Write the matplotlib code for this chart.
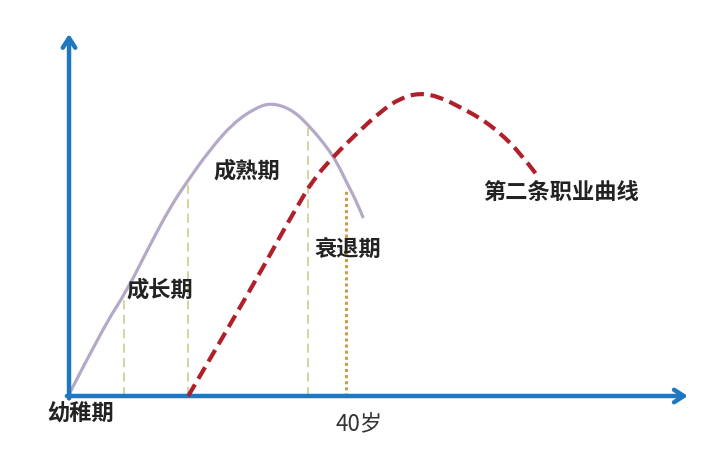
import numpy as np
import matplotlib
matplotlib.use("Agg")
import matplotlib.pyplot as plt
from matplotlib.path import Path
from matplotlib.patches import PathPatch

plt.rcParams['font.family'] = ['Noto Sans CJK SC', 'DejaVu Sans']

# first career curve (age, value)
first_age = [0.1, 4.9, 8.4, 11.3, 14.6, 17.2, 20.3, 23.7, 27.1, 29.4, 32.3, 34.8, 37.2, 38.7, 40.1, 41.6, 42.4]
first_val = [1.0, 22.7, 35.3, 48.7, 63.0, 72.0, 82.0, 91.0, 96.3, 97.7, 95.3, 89.7, 83.0, 77.7, 71.0, 64.3, 59.7]

# second career curve
second_age = [17.2, 22.8, 28.6, 30.4, 32.9, 35.2, 38.1, 41.6, 44.9, 47.8, 50.6, 53.5, 56.4, 59.3, 62.2, 65.1, 67.5]
second_val = [0.0, 22.0, 45.3, 53.0, 63.0, 72.0, 79.7, 87.7, 94.7, 99.3, 101.0, 99.7, 96.3, 92.7, 87.7, 81.0, 73.7]

# stage boundaries
stage_age = [7.9, 17.2, 34.5]
stage_top = [35.0, 72.0, 89.3]
age40 = 40.0
age40_top = 68.7

stage_labels = ['成长期', '成熟期', '衰退期']
stage_label_pos = [(13.1, 35.3), (25.7, 75.0), (40.3, 48.7)]


def smooth_path(xs, ys):
    # quadratic segments through the midpoints, the read points act as control points
    pts = list(zip(xs, ys))
    verts = [pts[0]]
    codes = [Path.MOVETO]
    for i in range(1, len(pts) - 1):
        mid = ((pts[i][0] + pts[i + 1][0]) / 2, (pts[i][1] + pts[i + 1][1]) / 2)
        if i == len(pts) - 2:
            mid = pts[-1]
        verts += [pts[i], mid]
        codes += [Path.CURVE3, Path.CURVE3]
    return Path(verts, codes)


fig = plt.figure(figsize=(7.2, 4.69), dpi=100)
ax = fig.add_axes([0, 0, 1, 1])
ax.set_xlim(-9.96, 93.94)
ax.set_ylim(-24.33, 132)
ax.axis('off')

blue = '#1f77c0'
# axes with arrows
ax.annotate('', xy=(89.3, 0), xytext=(-0.3, 0),
            arrowprops=dict(arrowstyle='->,head_length=0.7,head_width=0.45', color=blue, lw=3.2,
                            shrinkA=0, shrinkB=0))
ax.annotate('', xy=(0, 120.7), xytext=(0, -0.8),
            arrowprops=dict(arrowstyle='->,head_length=0.7,head_width=0.45', color=blue, lw=3.2,
                            shrinkA=0, shrinkB=0))

# guide lines
for a, t in zip(stage_age, stage_top):
    ax.plot([a, a], [0, t], color='#cdd494', lw=1.3, ls=(0, (5, 3)), zorder=1)
ax.plot([age40, age40], [0, age40_top], color='#d09a48', lw=2.2, ls=(0, (1, 1)), zorder=1)

ax.add_patch(PathPatch(smooth_path(first_age, first_val), fill=False, edgecolor='#b4aac8',
                       lw=2.3, capstyle='round', zorder=2))
ax.add_patch(PathPatch(smooth_path(second_age, second_val), fill=False, edgecolor='#b0202a',
                       lw=3.0, ls=(0, (3.2, 1.6)), zorder=3))

for lab, (x, y) in zip(stage_labels, stage_label_pos):
    ax.text(x, y, lab, fontsize=16, fontweight='bold', color='#222222', ha='center', va='center')

ax.text(71.0, 67.7, '第二条职业曲线', fontsize=16, fontweight='bold', color='#222222', ha='center', va='center')
ax.text(1.6, -6.0, '幼稚期', fontsize=16, fontweight='bold', color='#222222', ha='center', va='center')
ax.text(41.8, -9.7, '40岁', fontsize=16, color='#333333', ha='center', va='center')

fig.savefig('out.png', dpi=100, facecolor='white')
